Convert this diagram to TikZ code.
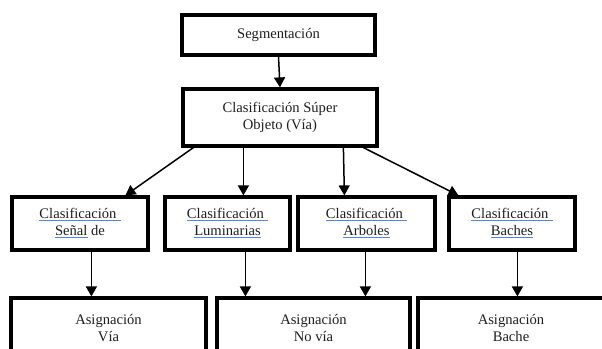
\documentclass[tikz,border=0pt]{standalone}
\usepackage{fontspec}
\setmainfont{Liberation Serif}
\usetikzlibrary{arrows.meta,calc}
\definecolor{ulblue}{HTML}{4F86E8}
\definecolor{txt}{HTML}{1E1E1E}
\newcommand\bul[1]{\setbox0\hbox{#1}\rlap{\textcolor{ulblue}{\rule[-2.6pt]{\wd0}{1.5pt}}}\box0\relax}
\tikzset{
  box/.style={draw=black, line width=3.2pt, inner sep=0pt, align=center,
    font=\fontsize{14.6pt}{17pt}\selectfont, text=txt},
  arr/.style={draw=black, line width=1.5pt, -{Triangle[length=10pt,width=11pt]}},
}
\begin{document}
\begin{tikzpicture}[x=1pt,y=-1pt]
\useasboundingbox (0,0) rectangle (602,348);
\clip (0,0) rectangle (602,348);
\node[box, minimum width=193pt, minimum height=40pt] (seg) at (278.5,35) {Segmentación};
\node[box, minimum width=194pt, minimum height=57pt] (sup) at (280,117.5) {Clasificación Súper\\Objeto (Vía)};
\node[box, minimum width=136pt, minimum height=53pt] (c1) at (80,223.5) {\bul{Clasificación\hspace{4pt}}\\\bul{Señal} de};
\node[box, minimum width=125pt, minimum height=53pt] (c2) at (227.5,223.5) {\bul{Clasificación\hspace{4pt}}\\\bul{Luminarias}};
\node[box, minimum width=137pt, minimum height=53pt] (c3) at (366.5,223.5) {\bul{Clasificación\hspace{4pt}}\\\bul{Arboles}};
\node[box, minimum width=126pt, minimum height=53pt] (c4) at (512,223.5) {\bul{Clasificación\hspace{4pt}}\\\bul{Baches}};
\node[box, minimum width=195pt, minimum height=60pt] (a1) at (108.5,328) {Asignación\\Vía};
\node[box, minimum width=193pt, minimum height=60pt] (a2) at (313.5,328) {Asignación\\No vía};
\node[box, minimum width=186pt, minimum height=60pt] (a3) at (511,328) {Asignación\\Bache};
\draw[arr] (seg.south) -- (sup.north);
\draw[arr] ([xshift=12pt]sup.south west) -- ([xshift=115pt]c1.north west);
\draw[arr] ([xshift=62pt]sup.south west) -- ([xshift=80pt]c2.north west);
\draw[arr] ([xshift=162pt]sup.south west) -- ([xshift=48pt]c3.north west);
\draw[arr] ([xshift=182pt]sup.south west) -- ([xshift=11pt]c4.north west);
\draw[arr] ([xshift=81pt]c1.south west) -- ([xshift=82pt]a1.north west);
\draw[arr] ([xshift=82pt]c2.south west) -- ([xshift=30pt]a2.north west);
\draw[arr] ([xshift=69pt]c3.south west) -- ([xshift=150pt]a2.north west);
\draw[arr] ([xshift=70pt]c4.south west) -- ([xshift=101pt]a3.north west);
\end{tikzpicture}
\end{document}
